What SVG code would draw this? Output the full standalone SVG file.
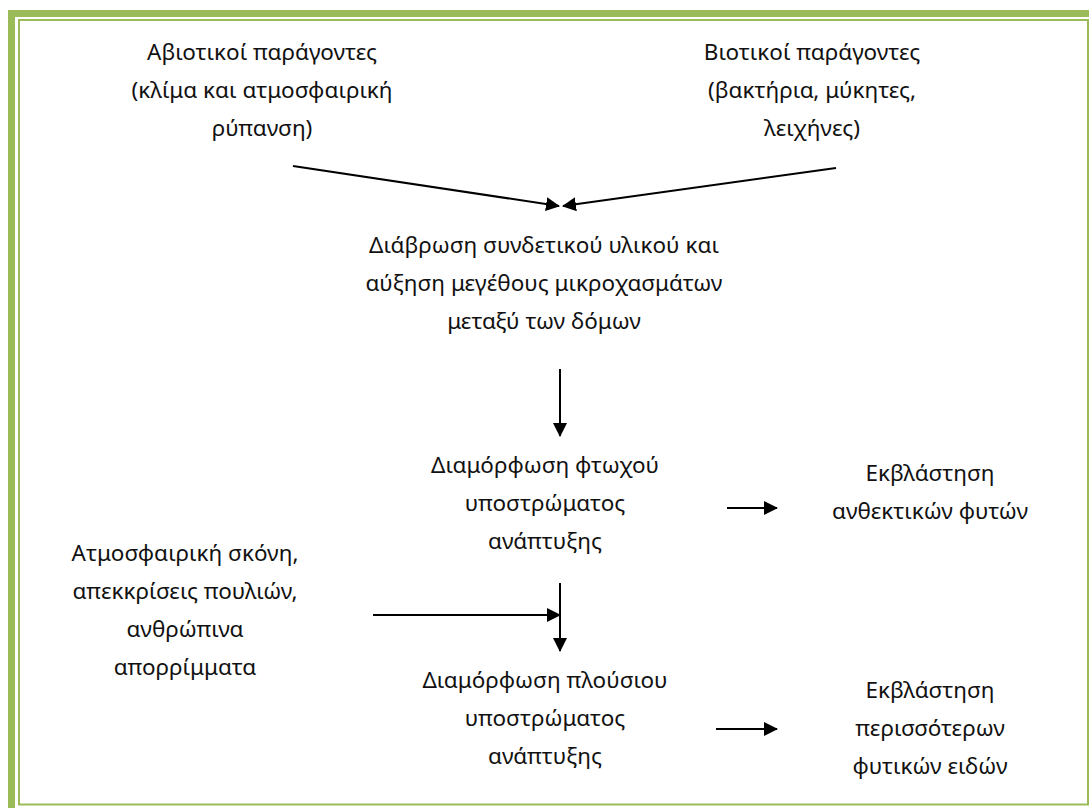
<svg xmlns="http://www.w3.org/2000/svg" width="1089" height="808" viewBox="0 0 1089 808">
<defs>
<marker id="ahv" markerWidth="14" markerHeight="14" refX="13" refY="7" orient="auto" markerUnits="userSpaceOnUse"><path d="M0,0 L14,7 L0,14 z" fill="#000"/></marker>
</defs>
<style>
text{font-family:"Noto Sans","DejaVu Sans",sans-serif;font-size:22.5px;fill:#111;text-anchor:middle}
.c{stroke:#000;stroke-width:2;fill:none}
</style>
<rect width="1089" height="808" fill="#fff"/>
<g id="frame" fill="none" stroke="#9BBB59">
<rect x="11.5" y="13.5" width="1090" height="800" stroke-width="7"/>
<rect x="19" y="20" width="1069" height="784.5" stroke-width="2"/>
</g>
<g id="n_abiotic"><text x="262" y="60">Αβιοτικοί παράγοντες</text><text x="262" y="98">(κλίμα και ατμοσφαιρική</text><text x="262" y="136">ρύπανση)</text></g>
<g id="n_biotic"><text x="812" y="60">Βιοτικοί παράγοντες</text><text x="812" y="98">(βακτήρια, μύκητες,</text><text x="812" y="136">λειχήνες)</text></g>
<g id="n_erosion"><text x="544" y="253">Διάβρωση συνδετικού υλικού και</text><text x="544" y="291">αύξηση μεγέθους μικροχασμάτων</text><text x="544" y="329">μεταξύ των δόμων</text></g>
<g id="n_poor"><text x="545" y="473">Διαμόρφωση φτωχού</text><text x="545" y="511">υποστρώματος</text><text x="545" y="549">ανάπτυξης</text></g>
<g id="n_resist"><text x="930" y="481">Εκβλάστηση</text><text x="930" y="519">ανθεκτικών φυτών</text></g>
<g id="n_dust"><text x="185" y="561">Ατμοσφαιρική σκόνη,</text><text x="185" y="599">απεκκρίσεις πουλιών,</text><text x="185" y="637">ανθρώπινα</text><text x="185" y="675">απορρίμματα</text></g>
<g id="n_rich"><text x="545" y="688">Διαμόρφωση πλούσιου</text><text x="545" y="726">υποστρώματος</text><text x="545" y="764">ανάπτυξης</text></g>
<g id="n_more"><text x="930" y="698">Εκβλάστηση</text><text x="930" y="736">περισσότερων</text><text x="930" y="774">φυτικών ειδών</text></g>
<g id="connectors">
<line class="c" x1="293" y1="166" x2="559" y2="206" marker-end="url(#ahv)"/>
<line class="c" x1="836" y1="168" x2="563" y2="206" marker-end="url(#ahv)"/>
<line class="c" x1="560" y1="369" x2="560" y2="436" marker-end="url(#ahv)"/>
<line class="c" x1="727" y1="508" x2="777" y2="508" marker-end="url(#ahv)"/>
<line class="c" x1="373" y1="615" x2="560" y2="615" marker-end="url(#ahv)"/>
<line class="c" x1="560" y1="583" x2="560" y2="651" marker-end="url(#ahv)"/>
<line class="c" x1="716" y1="729" x2="777" y2="729" marker-end="url(#ahv)"/>
</g>
</svg>
